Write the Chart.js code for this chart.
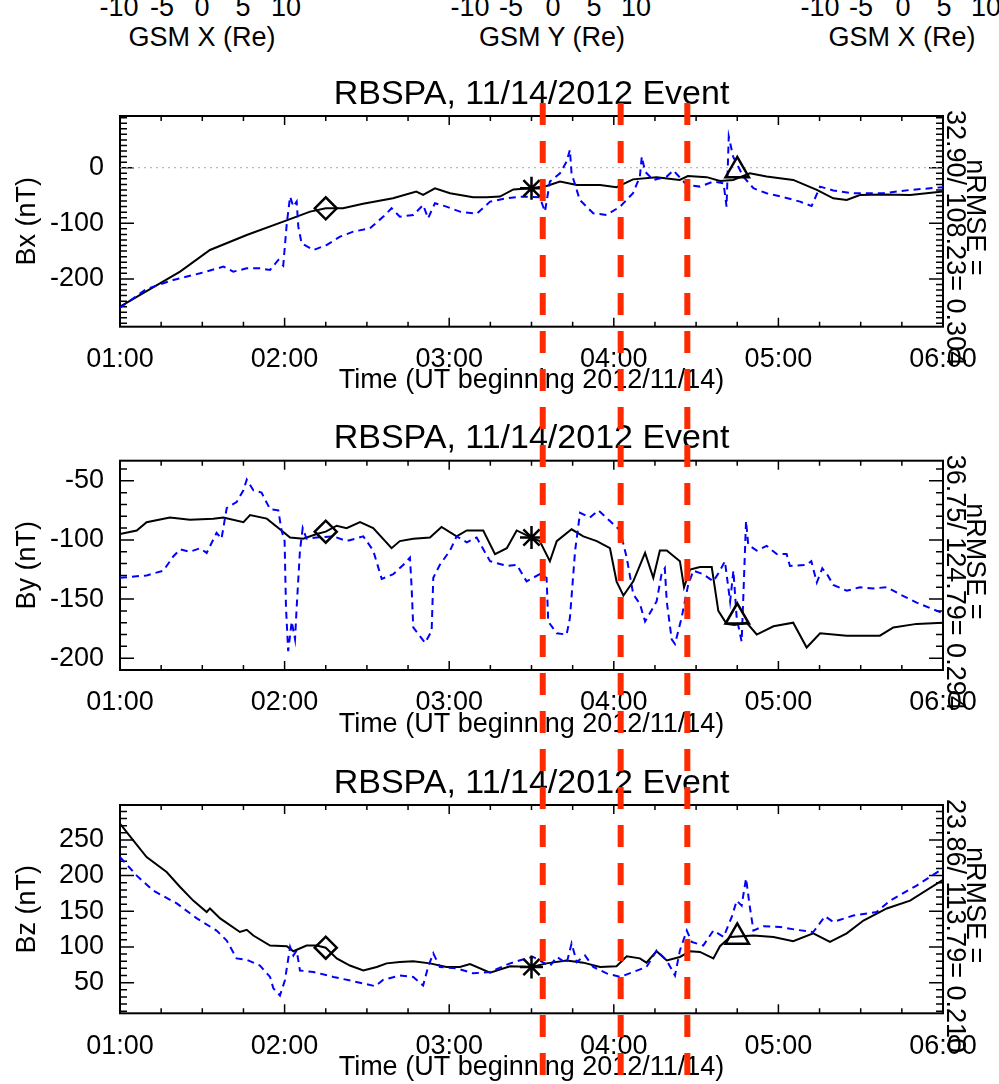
<!DOCTYPE html>
<html>
<head>
<meta charset="utf-8">
<script src="https://cdn.jsdelivr.net/npm/chart.js@4.4.0/dist/chart.umd.min.js"></script>
<style>
  body { margin: 0; background: #fff; }
  #page { position: relative; width: 999px; height: 1084px; overflow: hidden; font-family: 'Liberation Sans', Arial, sans-serif; }
  #page canvas { position: absolute; left: 0; }
  .lbl { position: absolute; font-size: 27px; line-height: 27px; white-space: nowrap; transform: translateX(-50%); color: #000; }
</style>
</head>
<body>
<div id="page">
  <canvas id="bx" width="999" height="344" style="top:60px"></canvas>
  <canvas id="by" width="999" height="344" style="top:404px"></canvas>
  <canvas id="bz" width="999" height="336" style="top:748px"></canvas>
</div>
<script>
// --- data (minutes after 01:00 UT) ---
const xTickLabels = ['01:00', '02:00', '03:00', '04:00', '05:00', '06:00'];
const eventTimes = [154.1, 182.5, 206.8];   // red dashed lines
const markerTimes = [75, 150, 225];         // diamond, asterisk, triangle

const bxModelT = [0, 9.7, 21.9, 32.8, 46.2, 59.5, 64.4, 69.3, 75, 81.3, 88.6, 99.5, 108, 110.5, 114.8, 120.3, 128.7, 133.6, 138.5, 143.4, 149.8, 155.5, 160.4, 166.5, 175, 181, 187, 195.6, 204, 207, 213.9, 218.7, 223.5, 229.6, 235.7, 245.4, 254, 260, 264.9, 269.7, 278.2, 288, 300];
const bxModelV = [-250, -222, -187, -148, -121, -97, -88, -79, -73, -73, -65, -55, -43, -49, -37, -46, -53, -53, -52, -39, -37, -33, -25, -31, -31, -35, -21, -17, -22, -15, -17, -24, -22, -10, -16, -22, -40, -55, -58, -49, -48, -49, -43];
const bxObsT = [0, 9.7, 19.4, 29.2, 37.7, 41.3, 46.2, 51, 54.7, 57.7, 59.5, 60.8, 62, 63.2, 64.4, 65, 66.2, 70.5, 75.3, 80.2, 85, 91.1, 96, 99, 102, 106.9, 110.5, 112.3, 114.8, 119, 123.9, 130, 134.9, 141, 145.8, 153, 154.9, 156.7, 160.4, 162.8, 164, 164.6, 167.6, 172.5, 177.4, 182.3, 187, 189.5, 190.2, 191.4, 194.4, 199.3, 201.7, 206.6, 211.4, 216.3, 220, 221.1, 221.9, 223.5, 227.2, 230.9, 235.7, 241.8, 247.9, 252.1, 255.2, 260, 267.3, 278.2, 288, 300];
const bxObsV = [-252, -218, -202, -190, -178, -187, -181, -181, -184, -166, -176, -100, -52, -70, -61, -106, -136, -148, -139, -124, -115, -109, -88, -73, -88, -85, -67, -91, -64, -70, -79, -83, -61, -55, -52, -53, -79, -25, -10, 11, 32, -10, -58, -82, -85, -70, -46, -16, 20, -7, -22, -16, -5, -31, -34, -25, -28, -70, 56, 20, -16, -37, -46, -53, -61, -69, -34, -41, -46, -46, -40, -35];
const bxMarkers = [-73, -37, -5];

const byModelT = [0, 6.1, 9.7, 18.2, 25.5, 34, 37.7, 45, 47.4, 53.5, 58.3, 62, 66.8, 71.7, 75, 79, 82.6, 87.5, 92.3, 99, 102, 106.9, 113, 117.2, 122.7, 126.4, 132.4, 136.7, 141, 144.6, 150, 153, 156.7, 159.2, 164.6, 168.9, 173.8, 178.6, 181, 183.5, 187.1, 191.4, 194.4, 196.8, 199.3, 204.1, 205.6, 207.8, 211.4, 215.7, 218.1, 221.1, 224, 228.4, 232.1, 238.2, 245.4, 250.3, 255.2, 264.9, 277, 281.9, 290.4, 300];
const byModelV = [-95, -92, -85, -81, -83, -82, -81, -85, -79, -82, -91, -98, -99, -95, -93, -88, -90, -85, -90, -107, -101, -99, -98, -89, -97, -92, -92, -112, -107, -92, -98, -101, -118, -101, -91, -97, -101, -107, -135, -147, -135, -111, -132, -109, -109, -118, -140, -125, -123, -123, -160, -171, -172, -170, -180, -173, -170, -191, -179, -181, -181, -174, -171, -170];
const byObsT = [0, 9.7, 15.8, 19.4, 21.9, 25.5, 29.2, 31.6, 35.2, 37, 38.9, 42.5, 45, 46.2, 48.6, 51.6, 54.7, 57.7, 58.9, 60, 60.5, 61.3, 62.6, 63.8, 64.4, 65.6, 66.6, 68, 71.7, 77.8, 82.6, 88.7, 92.3, 95.4, 99.6, 103.3, 105.7, 106.3, 106.9, 111.2, 113.6, 114.2, 116.6, 120.3, 122.7, 126.4, 130, 134.9, 141, 144.6, 148.2, 153, 155.5, 156.1, 159.2, 162.8, 164, 165.9, 167.7, 171.3, 174.4, 178.6, 182.3, 184.7, 187.1, 189.5, 191.4, 195.6, 197.4, 198.6, 199.3, 201.1, 202.3, 204.7, 207.1, 209, 212.6, 216.3, 218.7, 220.5, 222.4, 223.6, 224.8, 226.6, 227.2, 228.2, 229, 232.1, 235.7, 239.4, 243, 244.2, 250.3, 252, 254, 256, 258, 260, 264.9, 269.7, 274.6, 279.5, 284.3, 290.4, 300];
const byObsV = [-132, -130, -126, -114, -108, -110, -107, -111, -94, -99, -73, -68, -58, -49, -58, -60, -74, -75, -92, -101, -157, -194, -169, -184, -157, -109, -90, -99, -98, -97, -101, -97, -109, -133, -129, -121, -115, -140, -174, -187, -177, -132, -121, -109, -97, -102, -98, -118, -122, -121, -135, -129, -132, -169, -179, -180, -166, -109, -77, -81, -75, -84, -92, -115, -146, -154, -169, -152, -129, -124, -152, -184, -188, -166, -138, -126, -129, -135, -126, -118, -152, -126, -166, -186, -149, -84, -104, -109, -105, -112, -112, -122, -121, -118, -136, -124, -130, -138, -143, -140, -141, -140, -146, -153, -162];
const byMarkers = [-93, -98, -165];

const bzModelT = [0, 4.9, 9.7, 17, 21.9, 26.7, 31.6, 32.8, 36.5, 43.7, 46.2, 48.6, 54.7, 60.8, 63.2, 68, 71.7, 75, 79, 83.8, 88.7, 93.6, 97.2, 102, 106.9, 113, 119, 123.9, 127.6, 134.9, 142.2, 150, 155.5, 162.8, 168.9, 175, 181, 184.7, 189.5, 191.9, 195.6, 199.3, 204.1, 207.8, 211.4, 216.3, 218.7, 222.4, 230.9, 238.2, 245.4, 252.7, 258.8, 264.9, 271, 279.5, 288, 300];
const bzModelV = [273, 249, 226, 205, 184, 165, 149, 154, 140, 121, 124, 116, 102, 101, 94, 102, 102, 99, 84, 74, 67, 72, 77, 79, 80, 77, 72, 72, 76, 64, 73, 72, 77, 81, 78, 72, 73, 87, 84, 78, 94, 81, 86, 94, 93, 84, 101, 114, 116, 114, 108, 119, 107, 119, 137, 154, 165, 194];
const bzObsT = [0, 6.1, 12.1, 20.7, 28, 35.2, 38.9, 42.5, 46.2, 51, 54.7, 55.9, 58.3, 60.1, 62, 63.2, 64.4, 65.6, 70.5, 77.8, 85, 93, 96, 102, 106.9, 110.5, 112.3, 114.2, 116.6, 122.7, 128.8, 134.9, 142.2, 148.2, 150.6, 156.7, 159.2, 162.8, 164.6, 166.5, 169.5, 172.5, 177.4, 182.3, 187.1, 191.9, 195.6, 199.3, 202.3, 204.1, 206.6, 208.4, 212.6, 216.3, 220, 223, 224.8, 226.6, 228.2, 229.6, 230.9, 234.5, 240.6, 246.7, 252.7, 257, 260, 267.3, 275.8, 280.7, 290.4, 300];
const bzObsV = [226, 200, 179, 161, 140, 123, 109, 84, 82, 74, 58, 42, 32, 53, 100, 88, 95, 67, 65, 58, 52, 45, 54, 60, 58, 46, 72, 91, 72, 70, 63, 65, 77, 84, 86, 73, 86, 77, 105, 79, 88, 72, 63, 58, 65, 72, 95, 81, 60, 95, 123, 107, 102, 123, 114, 142, 165, 158, 196, 156, 123, 129, 128, 124, 121, 143, 135, 144, 149, 165, 186, 210];
const bzMarkers = [99, 72, 114];

const panelTitles = ['Bx (nT)', 'By (nT)', 'Bz (nT)'];
const rmseTexts = ['32.90/ 108.23= 0.304', '36.75/ 124.79= 0.294', '23.86/ 113.79= 0.210'];
const gsmTickLabels = ['-10', '-5', '0', '5', '10'];
const gsmTitles = ['GSM X (Re)', 'GSM Y (Re)', 'GSM X (Re)'];

// --- leftover labels of the orbit plots above (cut by the crop) ---
const gsmTickX = [[119, 162, 202, 243, 286], [470, 511, 553, 594, 636], [820, 861, 903, 944, 986]];
const gsmTitleX = [202, 552, 902];
const page = document.getElementById('page');
gsmTickX.forEach((xs, g) => {
  xs.forEach((x, i) => {
    const d = document.createElement('div');
    d.className = 'lbl';
    d.style.left = x + 'px';
    d.style.top = '-6px';
    d.textContent = gsmTickLabels[i];
    page.appendChild(d);
  });
  const t = document.createElement('div');
  t.className = 'lbl';
  t.style.left = gsmTitleX[g] + 'px';
  t.style.top = '24px';
  t.textContent = gsmTitles[g];
  page.appendChild(t);
});

Chart.defaults.font.family = "'Liberation Sans', Arial, sans-serif";
Chart.defaults.color = '#000';

const pts = (ts, vs) => ts.map((t, i) => ({ x: t, y: vs[i] }));

// IDL style box with inward ticks, red event lines and the nRMSE note
const idlFrame = {
  id: 'idlFrame',
  beforeDatasetsDraw(chart, args, opts) {
    const { ctx, chartArea: a, scales: { x, y } } = chart;
    ctx.save();
    ctx.strokeStyle = '#000';
    ctx.lineWidth = 1.5;
    ctx.beginPath();
    for (let t = 0; t <= 300; t += 15) {
      const px = x.getPixelForValue(t);
      const len = t % 60 === 0 ? 9 : 5;
      ctx.moveTo(px, a.bottom); ctx.lineTo(px, a.bottom - len);
      ctx.moveTo(px, a.top); ctx.lineTo(px, a.top + len);
    }
    for (let v = Math.ceil(y.min / 10) * 10; v <= y.max; v += 10) {
      const py = y.getPixelForValue(v);
      const len = v % opts.major === 0 ? 14 : 7;
      ctx.moveTo(a.left, py); ctx.lineTo(a.left + len, py);
      ctx.moveTo(a.right, py); ctx.lineTo(a.right - len, py);
    }
    ctx.stroke();
    ctx.lineWidth = 2;
    ctx.strokeRect(a.left, a.top, a.right - a.left, a.bottom - a.top);
    ctx.restore();
  },
  afterDraw(chart, args, opts) {
    const { ctx, chartArea: a, scales: { x } } = chart;
    ctx.save();
    ctx.fillStyle = '#000';
    ctx.font = "27px 'Liberation Sans', Arial, sans-serif";
    ctx.textBaseline = 'alphabetic';
    ctx.save();
    ctx.translate(946.5, a.top - 6);
    ctx.rotate(Math.PI / 2);
    ctx.textAlign = 'left';
    ctx.fillText(opts.rmse, 0, 0);
    ctx.restore();
    ctx.save();
    ctx.translate(966.5, (a.top + a.bottom) / 2 - 4);
    ctx.rotate(Math.PI / 2);
    ctx.textAlign = 'center';
    ctx.fillText('nRMSE =', 0, 0);
    ctx.restore();

    ctx.strokeStyle = '#ff2a00';
    ctx.lineWidth = 6;
    ctx.setLineDash([22, 16]);
    ctx.lineDashOffset = opts.pageTop + opts.redTop - 103;
    eventTimes.forEach(t => {
      const px = x.getPixelForValue(t);
      ctx.beginPath();
      ctx.moveTo(px, opts.redTop);
      ctx.lineTo(px, chart.height);
      ctx.stroke();
    });
    ctx.restore();
  }
};

const markerStyles = ['rectRot', 'star', 'triangle'];
const markerRadius = [11, 11.5, 13.5];

function makePanel(cfg) {
  const datasets = [];
  cfg.markers.forEach((v, i) => {
    datasets.push({
      data: [{ x: markerTimes[i], y: v }],
      showLine: false,
      pointStyle: markerStyles[i],
      pointRadius: markerRadius[i],
      pointBorderWidth: 2.5,
      pointBorderColor: '#000',
      pointBackgroundColor: 'rgba(0,0,0,0)',
      clip: false
    });
  });
  datasets.push({
    data: pts(cfg.obsT, cfg.obsV),
    borderColor: '#0000ff', borderWidth: 2, borderDash: [7, 5],
    pointRadius: 0, tension: 0
  });
  datasets.push({
    data: pts(cfg.modelT, cfg.modelV),
    borderColor: '#000', borderWidth: 2,
    pointRadius: 0, tension: 0
  });
  if (cfg.zeroLine) {
    datasets.push({
      data: [{ x: 0, y: 0 }, { x: 300, y: 0 }],
      borderColor: '#aaa', borderWidth: 1, borderDash: [2, 4],
      pointRadius: 0
    });
  }

  return new Chart(document.getElementById(cfg.id), {
    type: 'line',
    data: { datasets },
    options: {
      responsive: false,
      animation: false,
      devicePixelRatio: 1,
      layout: { autoPadding: false, padding: { left: 0, right: 56, top: 0, bottom: 0 } },
      plugins: {
        legend: { display: false },
        tooltip: { enabled: false },
        title: {
          display: true,
          fullSize: false,
          text: 'RBSPA, 11/14/2012 Event',
          color: '#000',
          font: { size: 34, weight: 'normal' },
          padding: { top: cfg.titleTop, bottom: cfg.titleBottom }
        },
        idlFrame: { major: cfg.major, rmse: cfg.rmse, pageTop: cfg.pageTop, redTop: cfg.redTop }
      },
      scales: {
        x: {
          type: 'linear', min: 0, max: 300,
          grid: { display: false },
          border: { display: false },
          ticks: {
            stepSize: 60, padding: 8.8, font: { size: 27 }, color: '#000',
            maxRotation: 0, autoSkip: false, includeBounds: false,
            callback: v => xTickLabels[Math.round(v / 60)]
          },
          title: {
            display: true, text: 'Time (UT beginning 2012/11/14)',
            font: { size: 27 }, color: '#000',
            padding: { top: 0, bottom: cfg.xTitleBottom }
          },
          afterFit: s => { s.height = cfg.xHeight; }
        },
        y: {
          type: 'linear', min: cfg.yMin, max: cfg.yMax,
          grid: { display: false },
          border: { display: false },
          ticks: { stepSize: cfg.major, padding: 8, font: { size: 27 }, color: '#000', includeBounds: false },
          title: {
            display: true, text: cfg.yTitle,
            font: { size: 27 }, color: '#000',
            padding: { top: 11.8, bottom: 0 }
          },
          afterFit: s => { s.width = 120; }
        }
      }
    },
    plugins: [idlFrame]
  });
}

makePanel({
  id: 'bx', pageTop: 60, redTop: 43, titleTop: 13.8, titleBottom: 1.4,
  xHeight: 77.3, xTitleBottom: 6.9, yMin: -286, yMax: 93, major: 100,
  yTitle: panelTitles[0], rmse: rmseTexts[0], zeroLine: true,
  modelT: bxModelT, modelV: bxModelV, obsT: bxObsT, obsV: bxObsV, markers: bxMarkers
});
makePanel({
  id: 'by', pageTop: 404, redTop: 0, titleTop: 14.3, titleBottom: 1.6,
  xHeight: 78, xTitleBottom: 7.6, yMin: -210, yMax: -33, major: 50,
  yTitle: panelTitles[1], rmse: rmseTexts[1],
  modelT: byModelT, modelV: byModelV, obsT: byObsT, obsV: byObsV, markers: byMarkers
});
makePanel({
  id: 'bz', pageTop: 748, redTop: 0, titleTop: 14.8, titleBottom: 1.4,
  xHeight: 70.7, xTitleBottom: 0.3, yMin: 7, yMax: 299, major: 50,
  yTitle: panelTitles[2], rmse: rmseTexts[2],
  modelT: bzModelT, modelV: bzModelV, obsT: bzObsT, obsV: bzObsV, markers: bzMarkers
});
</script>
</body>
</html>
